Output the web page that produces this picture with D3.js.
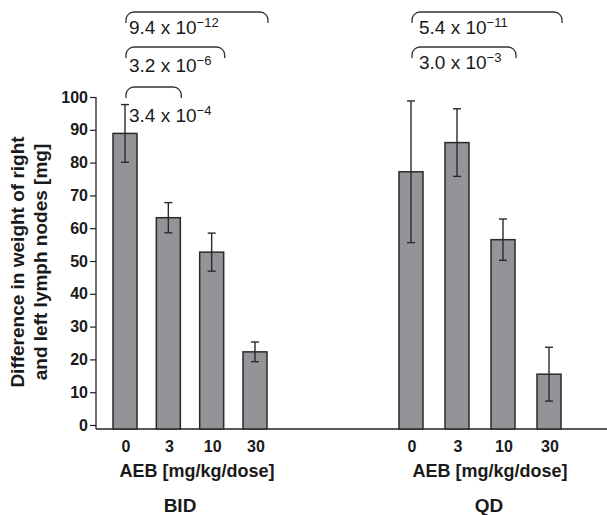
<!DOCTYPE html>
<html>
<head>
<meta charset="utf-8">
<script src="https://cdn.jsdelivr.net/npm/d3@7"></script>
<style>
body { margin: 0; background: #fff; }
text { font-family: "Liberation Sans", Arial, Helvetica, sans-serif; fill: #1a1a1a; }
</style>
</head>
<body>
<div id="chart"></div>
<script>
// values
var doses = ["0", "3", "10", "30"];
var groups = ["BID", "QD"];
var bid_mean = [88.9, 63.2, 52.7, 22.3];
var bid_err = [8.8, 4.6, 5.8, 3.0];
var qd_mean = [77.2, 86.1, 56.5, 15.5];
var qd_err = [21.6, 10.3, 6.3, 8.2];
var y_ticks = [0, 10, 20, 30, 40, 50, 60, 70, 80, 90, 100];

// p-value brackets: group, from dose, to dose, mantissa, exponent, tier
var p_group = ["BID", "BID", "BID", "QD", "QD"];
var p_from = ["0", "0", "0", "0", "0"];
var p_to = ["30", "10", "3", "30", "10"];
var p_mant = ["9.4", "3.2", "3.4", "5.4", "3.0"];
var p_exp = ["\u221212", "\u22126", "\u22124", "\u221211", "\u22123"];
var p_tier = [0, 1, 2, 0, 1];

var W = 607, H = 515;
var tierY = [12, 47, 87];
var tierText = [22, 25, 35];

var svg = d3.select("#chart").append("svg")
    .attr("width", W).attr("height", H);

var yScale = d3.scaleLinear().domain([0, 100]).range([425, 97]);
var baseY = yScale(0) + 4;
var axisX = 96;

var xScales = {
    "BID": d3.scalePoint().domain(doses).range([125, 255]),
    "QD": d3.scalePoint().domain(doses).range([411, 549])
};
var titleShift = {"BID": 7, "QD": 10};
var labelShift = {"BID": -10, "QD": 9};
var means = {"BID": bid_mean, "QD": qd_mean};
var errs = {"BID": bid_err, "QD": qd_err};
var barW = 24;

// y axis
var yAxis = svg.append("g")
    .attr("transform", "translate(" + axisX + ",0)")
    .call(d3.axisLeft(yScale).tickValues(y_ticks).tickSize(6).tickPadding(2));
yAxis.select(".domain").attr("d", "M0," + yScale(100) + "V" + baseY)
    .attr("stroke", "#222").attr("stroke-width", 1.3);
yAxis.selectAll(".tick line").attr("stroke", "#222").attr("stroke-width", 1.2);
yAxis.selectAll(".tick text")
    .attr("fill", "#1a1a1a")
    .style("font-size", "16px").style("font-weight", "bold")
    .style("font-family", "Liberation Sans, Arial, sans-serif");

// x baseline
svg.append("line")
    .attr("x1", axisX).attr("x2", W)
    .attr("y1", baseY).attr("y2", baseY)
    .attr("stroke", "#222").attr("stroke-width", 1.4);

// y label
var ylab = ["Difference in weight of right", "and left lymph nodes [mg]"];
svg.selectAll(".ylab").data(ylab).enter().append("text")
    .attr("class", "ylab")
    .attr("transform", function(d, i) { return "translate(" + (24 + i * 23) + ",262) rotate(-90)"; })
    .attr("text-anchor", "middle")
    .style("font-size", "19px").style("font-weight", "bold")
    .text(function(d) { return d; });

groups.forEach(function(g) {
    var x = xScales[g];
    var data = doses.map(function(d, i) { return {dose: d, v: means[g][i], e: errs[g][i]}; });
    var gg = svg.append("g");

    gg.selectAll("rect").data(data).enter().append("rect")
        .attr("x", function(d) { return x(d.dose) - barW / 2; })
        .attr("y", function(d) { return yScale(d.v); })
        .attr("width", barW)
        .attr("height", function(d) { return baseY - yScale(d.v); })
        .attr("fill", "#939498")
        .attr("stroke", "#2a2a2a")
        .attr("stroke-width", 1.5);

    var eb = gg.selectAll(".err").data(data).enter().append("g").attr("class", "err")
        .attr("stroke", "#2a2a2a").attr("stroke-width", 1.4);
    eb.append("line")
        .attr("x1", function(d) { return x(d.dose); })
        .attr("x2", function(d) { return x(d.dose); })
        .attr("y1", function(d) { return yScale(d.v + d.e); })
        .attr("y2", function(d) { return yScale(d.v - d.e); });
    eb.append("line")
        .attr("x1", function(d) { return x(d.dose) - 4; })
        .attr("x2", function(d) { return x(d.dose) + 4; })
        .attr("y1", function(d) { return yScale(d.v + d.e); })
        .attr("y2", function(d) { return yScale(d.v + d.e); });
    eb.append("line")
        .attr("x1", function(d) { return x(d.dose) - 4; })
        .attr("x2", function(d) { return x(d.dose) + 4; })
        .attr("y1", function(d) { return yScale(d.v - d.e); })
        .attr("y2", function(d) { return yScale(d.v - d.e); });

    // dose tick labels
    gg.selectAll(".dl").data(doses).enter().append("text")
        .attr("x", function(d) { return x(d) + 1; })
        .attr("y", 452)
        .attr("text-anchor", "middle")
        .style("font-size", "16px").style("font-weight", "bold")
        .text(function(d) { return d; });

    var mid = (x.range()[0] + x.range()[1]) / 2;
    gg.append("text")
        .attr("x", mid + titleShift[g]).attr("y", 477)
        .attr("text-anchor", "middle")
        .style("font-size", "18px").style("font-weight", "bold")
        .text("AEB [mg/kg/dose]");
    gg.append("text")
        .attr("x", mid + labelShift[g]).attr("y", 512)
        .attr("text-anchor", "middle")
        .style("font-size", "19px").style("font-weight", "bold")
        .text(g);
});

// brackets
p_group.forEach(function(g, i) {
    var x = xScales[g];
    var x1 = x(p_from[i]) + 1, x2 = x(p_to[i]) + 13;
    var y0 = tierY[p_tier[i]], drop = 11, r = 8;
    var p = d3.path();
    p.moveTo(x1, y0 + drop);
    p.arcTo(x1, y0, x1 + r, y0, r);
    p.lineTo(x2 - r, y0);
    p.arcTo(x2, y0, x2, y0 + r, r);
    p.lineTo(x2, y0 + drop);
    svg.append("path").attr("d", p.toString())
        .attr("fill", "none").attr("stroke", "#333").attr("stroke-width", 1.3);

    var t = svg.append("text")
        .attr("x", x1 + (g == "BID" ? 3 : 7))
        .attr("y", y0 + tierText[p_tier[i]] - (g == "QD" && p_tier[i] == 1 ? 3 : 0))
        .style("font-size", "19px");
    t.append("tspan").text(p_mant[i] + " x 10");
    t.append("tspan").attr("dy", -7).style("font-size", "13px").text(p_exp[i]);
});
</script>
</body>
</html>
